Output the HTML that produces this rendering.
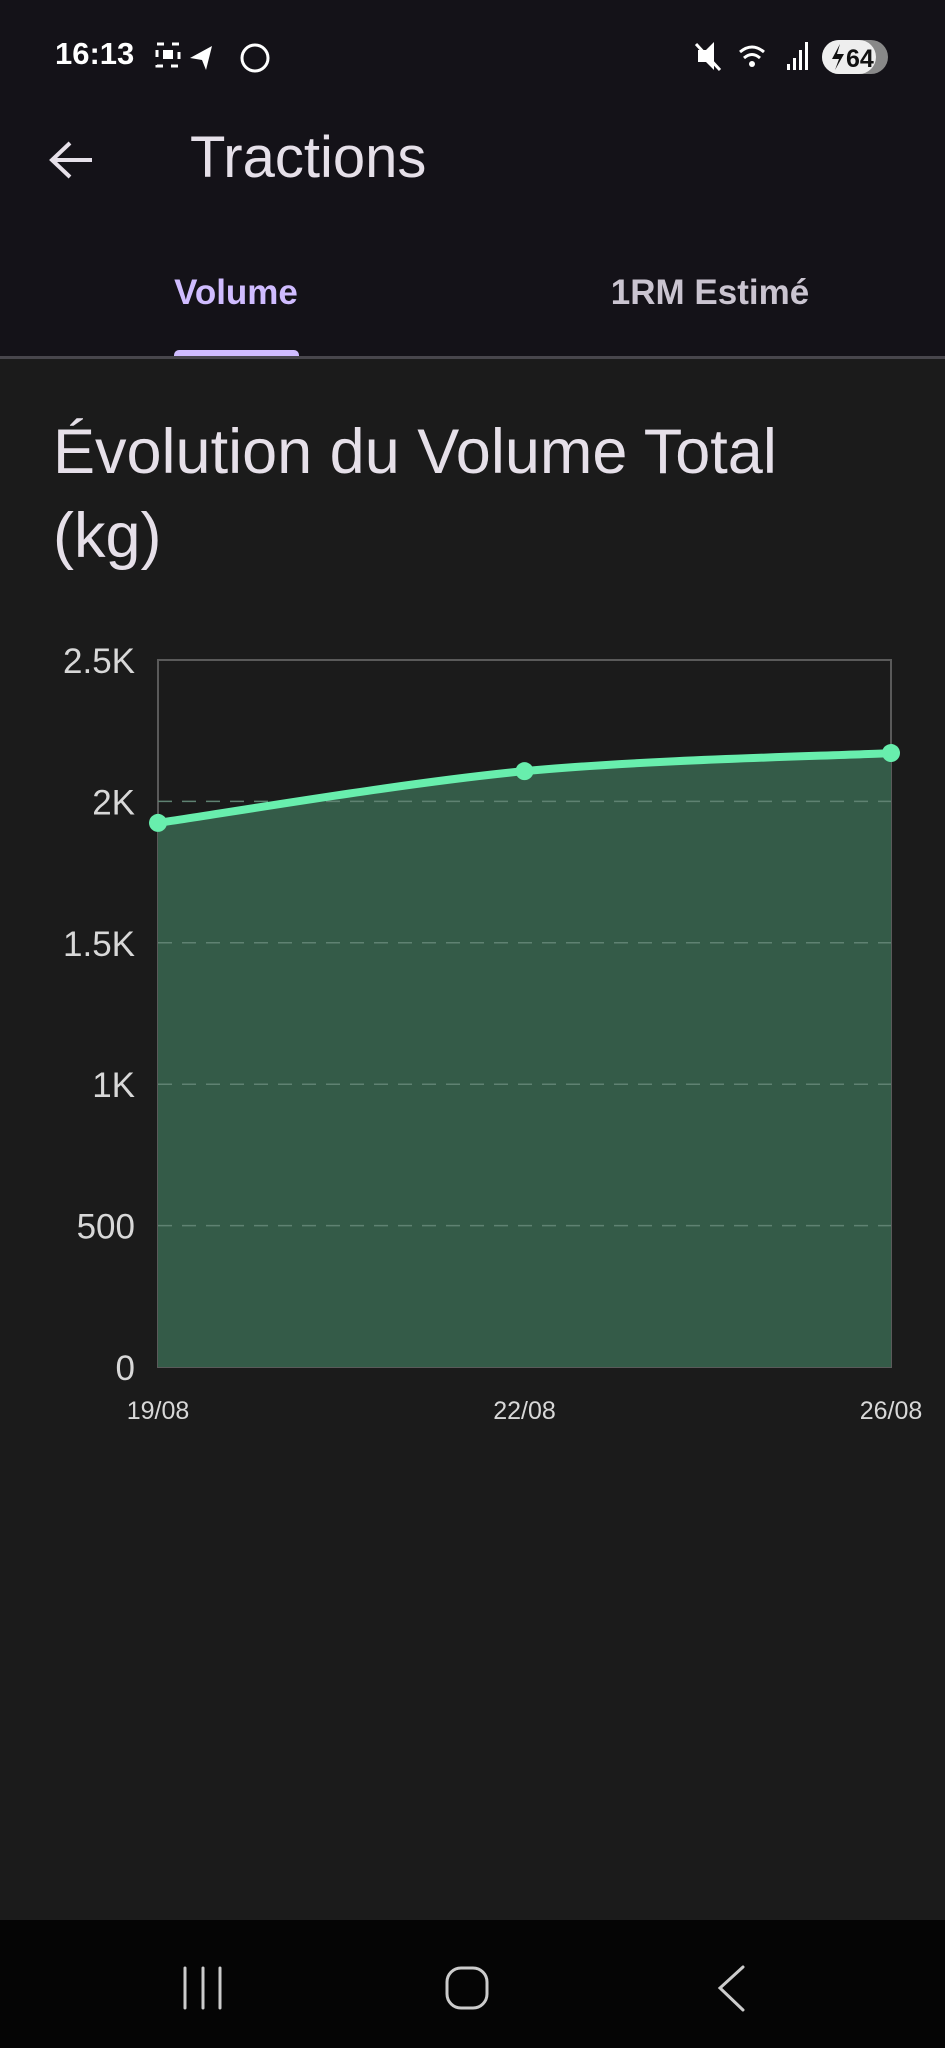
<!DOCTYPE html>
<html><head><meta charset="utf-8">
<style>
html,body{margin:0;padding:0;width:945px;height:2048px;overflow:hidden;background:#1b1b1b;font-family:"Liberation Sans",sans-serif;}
#top{position:absolute;left:0;top:0;width:945px;height:358px;background:#141218;}
.abs{position:absolute;}
</style></head><body>
<div id="top">
  <div class="abs" style="left:55px;top:36px;font-size:31px;font-weight:bold;color:#fff;">16:13</div>
  <svg class="abs" style="left:150px;top:38px" width="120" height="40">
    <rect x="7" y="6" width="22" height="22" fill="none" stroke="#fff" stroke-width="3" stroke-dasharray="7 8"/>
    <rect x="13" y="12" width="10" height="9" fill="#fff"/>
    <path d="M40 20 L62 8 L56 32 L52 22 Z" fill="#fff"/>
    <circle cx="105" cy="20" r="13" fill="none" stroke="#fff" stroke-width="3"/>
  </svg>
  <svg class="abs" style="left:690px;top:36px" width="205" height="44">
    <path d="M8 14 L16 14 L24 6 L24 34 L16 26 L8 26 Z" fill="#fff"/><line x1="6" y1="8" x2="30" y2="34" stroke="#fff" stroke-width="3"/>
    <path d="M50 16 Q62 6 74 16" fill="none" stroke="#fff" stroke-width="3"/><path d="M54 22 Q62 15 70 22" fill="none" stroke="#fff" stroke-width="3"/><circle cx="62" cy="28" r="3" fill="#fff"/>
    <rect x="97" y="28" width="3" height="6" fill="#fff"/><rect x="103" y="22" width="3" height="12" fill="#fff"/><rect x="109" y="14" width="3" height="20" fill="#fff"/><rect x="115" y="6" width="3" height="28" fill="#fff"/>
    <rect x="132" y="4" width="66" height="34" rx="17" fill="#888"/><rect x="132" y="4" width="54" height="34" rx="17" fill="#eee"/>
    <path d="M150 8 L142 23 L149 23 L145 34 L154 18 L147 18 Z" fill="#111"/>
    <text x="156" y="31" font-size="25" font-weight="bold" fill="#111" font-family="Liberation Sans">64</text>
  </svg>
  <svg class="abs" style="left:48px;top:140px" width="50" height="40">
    <path d="M4 20 H44 M22 3 L4 20 L22 37" fill="none" stroke="#e6e0e9" stroke-width="4"/>
  </svg>
  <div class="abs" style="left:190px;top:124px;font-size:58px;color:#e6e0e9;">Tractions</div>
  <div class="abs" style="left:136px;width:200px;text-align:center;top:273px;font-size:35px;font-weight:bold;color:#d0bcff;">Volume</div>
  <div class="abs" style="left:174px;top:350px;width:125px;height:8px;border-radius:5px 5px 0 0;background:#d0bcff;"></div>
  <div class="abs" style="left:560px;width:300px;text-align:center;top:273px;font-size:35px;font-weight:bold;color:#cac4d0;">1RM Estimé</div>
</div>
<div class="abs" style="left:0;top:356px;width:945px;height:3px;background:#48464c;"></div>
<div class="abs" style="left:53px;top:410px;font-size:63px;line-height:84px;color:#e6e0e9;">Évolution du Volume Total<br>(kg)</div>

<svg id="chart" class="abs" style="left:0;top:640px" width="945" height="820"></svg>

<div class="abs" style="left:0;top:1920px;width:945px;height:128px;background:#050505;"></div>
<svg class="abs" style="left:0;top:1920px" width="945" height="128">
  <g stroke="#ccc" stroke-width="3" stroke-linecap="round" fill="none">
    <line x1="185" y1="48" x2="185" y2="88"/><line x1="203" y1="48" x2="203" y2="88"/><line x1="220" y1="48" x2="220" y2="88"/>
    <rect x="447" y="48" width="40" height="40" rx="14"/>
    <path d="M743 47 L720 68 L743 90"/>
  </g>
</svg>

<script>
const categories = ["19/08", "22/08", "26/08"];
const volumes = [1924, 2107, 2171];
const yTicks = [0, 500, 1000, 1500, 2000, 2500];
const yTickLabels = ["0", "500", "1K", "1.5K", "2K", "2.5K"];
const yMax = 2500;

const svg = document.getElementById('chart');
const NS = 'http://www.w3.org/2000/svg';
const L = 158, R = 891, T = 20, B = 727; // relative to svg top (640)
const xs = i => L + (R - L) * i / (categories.length - 1);
const ys = v => B - (B - T) * v / yMax;
function mk(tag, attrs) { const e = document.createElementNS(NS, tag); for (const k in attrs) e.setAttribute(k, attrs[k]); svg.appendChild(e); return e; }

const frame = mk('rect', {x: L, y: T, width: R - L, height: B - T, fill: 'none', stroke: '#5a5a5a', 'stroke-width': 2});



const pts = volumes.map((v, i) => [xs(i), ys(v)]);
function curve(p) {
  let d = `M${p[0][0]},${p[0][1]}`;
  for (let i = 0; i < p.length - 1; i++) {
    const p0 = p[i - 1] || p[i], p1 = p[i], p2 = p[i + 1], p3 = p[i + 2] || p2;
    const c1x = p1[0] + (p2[0] - p0[0]) / 6, c1y = p1[1] + (p2[1] - p0[1]) / 6;
    const c2x = p2[0] - (p3[0] - p1[0]) / 6, c2y = p2[1] - (p3[1] - p1[1]) / 6;
    d += ` C${c1x},${c1y} ${c2x},${c2y} ${p2[0]},${p2[1]}`;
  }
  return d;
}
const lineD = curve(pts);
const area = mk('path', {d: lineD + ` L${xs(categories.length - 1)},${B} L${xs(0)},${B} Z`, fill: '#345b48'});



yTicks.forEach((t, i) => {
  if (t > 0 && t < yMax) {
    const g = mk('line', {x1: L, x2: R, y1: ys(t), y2: ys(t), stroke: '#5f8272', 'stroke-width': 1.5, 'stroke-dasharray': '14 10'});
    
    
  }
  const tx = mk('text', {x: 135, y: ys(t) + 13, 'text-anchor': 'end', 'font-size': 35, fill: '#d8d8d8', 'font-family': 'Liberation Sans'});
  tx.textContent = yTickLabels[i];
  
  
});

const line = mk('path', {d: lineD, fill: 'none', stroke: '#68eead', 'stroke-width': 8, 'stroke-linecap': 'round'});



pts.forEach((p, i) => {
  const c = mk('circle', {cx: p[0], cy: p[1], r: 9, fill: '#68eead'});
  
  
  const tx = mk('text', {x: p[0], y: B + 52, 'text-anchor': 'middle', 'font-size': 25, fill: '#d8d8d8', 'font-family': 'Liberation Sans'});
  tx.textContent = categories[i];
  
  
});
</script>
</body></html>
